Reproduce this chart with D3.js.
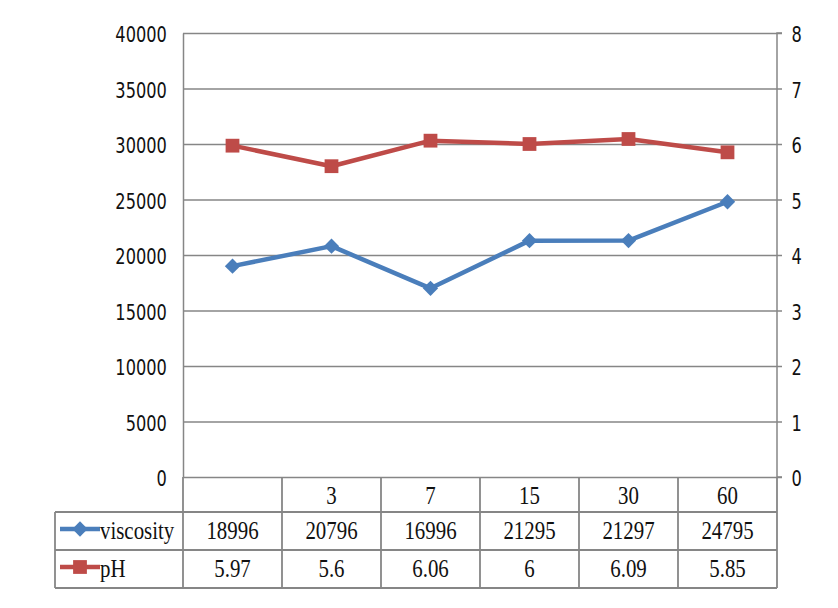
<!DOCTYPE html>
<html><head><meta charset="utf-8">
<script src="https://cdn.jsdelivr.net/npm/d3@7"></script>
<style>
html,body{margin:0;padding:0;background:#fff;}
text{fill:#111;}
.ax text{font-family:"DejaVu Sans Condensed","Liberation Sans",sans-serif;}
.tb{font-family:"Liberation Serif","DejaVu Serif",serif;}
</style></head>
<body>
<svg id="c" width="838" height="608"></svg>
<script>
const categories = ["", "3", "7", "15", "30", "60"];
const viscosity = [18996, 20796, 16996, 21295, 21297, 24795];
const ph = [5.97, 5.6, 6.06, 6, 6.09, 5.85];
const leftTicks = [0, 5000, 10000, 15000, 20000, 25000, 30000, 35000, 40000];
const rightTicks = [0, 1, 2, 3, 4, 5, 6, 7, 8];
const seriesNames = ["viscosity", "pH"];

const svg = d3.select("#c");
const L = 183, R = 777, T = 33, B = 477;
const rowH = [B, 512, 550, 588];
const tableLeft = 55;
const gridColor = "#868686";
const blue = "#4a7ebb", red = "#be4b48";
const axFs = 20, tbFs = 22;

const x = d3.scaleBand().domain(categories.map((d,i)=>i)).range([L, R]).padding(0);
const yL = d3.scaleLinear().domain([0, 40000]).range([B, T]);
const yR = d3.scaleLinear().domain([0, 8]).range([B, T]);

// gridlines
const grid = svg.append("g").attr("transform", `translate(${L},0)`)
  .call(d3.axisLeft(yL).tickValues(leftTicks).tickSize(-(R - L)).tickFormat(""));
grid.select(".domain").remove();
grid.selectAll("line").attr("stroke", gridColor).attr("stroke-width", 1.5);

// left axis
const ax = svg.append("g").attr("class", "ax").attr("transform", `translate(${L},0)`)
  .call(d3.axisLeft(yL).tickValues(leftTicks).tickSize(0).tickPadding(18).tickFormat(d3.format("d")));
ax.select(".domain").attr("stroke", gridColor).attr("stroke-width", 1.5);
ax.selectAll("text").style("font-size", axFs + "px").attr("dy", "0.4em")
  .attr("transform", "scale(0.9,1.1)");

// right axis
const ar = svg.append("g").attr("class", "ax").attr("transform", `translate(${R},0)`)
  .call(d3.axisRight(yR).tickValues(rightTicks).tickSize(5).tickPadding(11).tickFormat(d3.format("d")));
ar.select(".domain").attr("stroke", gridColor).attr("stroke-width", 1.5).attr("d", `M5,${T}H0V${B}H5`);
ar.selectAll("line").attr("stroke", gridColor).attr("stroke-width", 1.5);
ar.selectAll("text").style("font-size", axFs + "px").attr("dy", "0.4em")
  .attr("transform", "scale(0.9,1.1)");

// lines
const cx = i => x(i) + x.bandwidth() / 2;
svg.append("path").datum(viscosity)
  .attr("d", d3.line().x((d,i)=>cx(i)).y(d=>yL(d)))
  .attr("fill", "none").attr("stroke", blue).attr("stroke-width", 4.5).attr("stroke-linejoin", "round");
svg.append("path").datum(ph)
  .attr("d", d3.line().x((d,i)=>cx(i)).y(d=>yR(d)))
  .attr("fill", "none").attr("stroke", red).attr("stroke-width", 4.5).attr("stroke-linejoin", "round");

const diamond = d3.symbol().type(d3.symbolDiamond2).size(150);
const square = d3.symbol().type(d3.symbolSquare).size(190);
svg.append("g").selectAll("path").data(viscosity).join("path")
  .attr("d", diamond).attr("fill", blue)
  .attr("transform", (d,i)=>`translate(${cx(i)},${yL(d)})`);
svg.append("g").selectAll("path").data(ph).join("path")
  .attr("d", square).attr("fill", red)
  .attr("transform", (d,i)=>`translate(${cx(i)},${yR(d)})`);

// data table
const tg = svg.append("g").attr("stroke", gridColor).attr("stroke-width", 1.8).attr("fill", "none");
[1,2,3].forEach(k=>{
  tg.append("line").attr("x1", tableLeft).attr("x2", R).attr("y1", rowH[k]).attr("y2", rowH[k]);
});
tg.append("line").attr("x1", tableLeft).attr("x2", tableLeft).attr("y1", rowH[1]).attr("y2", rowH[3]);
categories.forEach((c,i)=>{
  tg.append("line").attr("x1", x(i)).attr("x2", x(i)).attr("y1", rowH[0]).attr("y2", rowH[3]);
});
tg.append("line").attr("x1", R).attr("x2", R).attr("y1", rowH[0]).attr("y2", rowH[3]);

function tbText(px, py, str, anchor) {
  svg.append("g").attr("transform", `translate(${px},${py})`)
    .append("text").attr("class", "tb").attr("text-anchor", anchor)
    .attr("transform", "scale(0.95,1.15)")
    .style("font-size", tbFs + "px").text(str);
}

// header labels
categories.forEach((d,i)=> tbText(cx(i), (rowH[0]+rowH[1])/2 + 9, d, "middle"));

// value rows
[viscosity, ph].forEach((arr, r)=>{
  const yc = (rowH[r+1] + rowH[r+2]) / 2 + 8;
  arr.forEach((d,i)=> tbText(cx(i), yc, String(d), "middle"));
  const ly = (rowH[r+1] + rowH[r+2]) / 2;
  const col = r === 0 ? blue : red;
  svg.append("line").attr("x1", 60).attr("x2", 100).attr("y1", ly - 2).attr("y2", ly - 2)
    .attr("stroke", col).attr("stroke-width", 4.5);
  svg.append("path").attr("d", r === 0 ? diamond : square).attr("fill", col)
    .attr("transform", `translate(80,${ly - 2})`);
  tbText(100, yc, seriesNames[r], "start");
});
</script>
</body></html>
